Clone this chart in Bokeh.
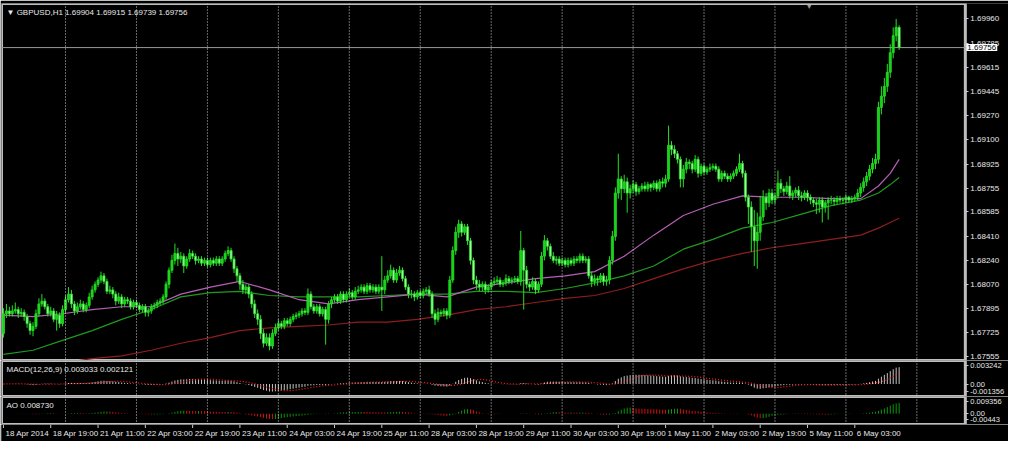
import numpy as np
import pandas as pd
from bokeh.plotting import figure
from bokeh.layouts import column
from bokeh.models import Range1d, FixedTicker, Label, Span
from bokeh.embed import file_html
from bokeh.resources import INLINE
from bokeh.core.properties import value

symbol_title = "\u25bc GBPUSD,H1 1.69904 1.69915 1.69739 1.69756"
macd_title = "MACD(12,26,9) 0.003033 0.002121"
ao_title = "AO 0.008730"
last_price = 1.69756
last_price_label = "1.69756"
first_open = 1.6772

close = [
    1.6786, 1.6788, 1.6786, 1.6788, 1.6789, 1.6786, 1.6787, 1.6784, 1.6779, 1.6774,
    1.6777, 1.6786, 1.6793, 1.6795, 1.6791, 1.6786, 1.6788, 1.6782, 1.6785, 1.6779,
    1.6789, 1.6796, 1.6800, 1.6793, 1.6788, 1.6791, 1.6793, 1.6789, 1.6792, 1.6798,
    1.6803, 1.6807, 1.6810, 1.6813, 1.6809, 1.6802, 1.6803, 1.6800, 1.6795, 1.6798,
    1.6793, 1.6796, 1.6795, 1.6791, 1.6794, 1.6792, 1.6789, 1.6791, 1.6787, 1.6788,
    1.6791, 1.6792, 1.6794, 1.6795, 1.6798, 1.6807, 1.6817, 1.6824, 1.6829, 1.6825,
    1.6827, 1.6820, 1.6825, 1.6829, 1.6827, 1.6824, 1.6825, 1.6822, 1.6824, 1.6821,
    1.6824, 1.6822, 1.6825, 1.6822, 1.6825, 1.6829, 1.6831, 1.6825, 1.6818, 1.6813,
    1.6807, 1.6803, 1.6805, 1.6800, 1.6793, 1.6786, 1.6782, 1.6772, 1.6765, 1.6769,
    1.6763, 1.6772, 1.6776, 1.6779, 1.6777, 1.6781, 1.6779, 1.6782, 1.6784, 1.6785,
    1.6786, 1.6788, 1.6787, 1.6800, 1.6791, 1.6788, 1.6791, 1.6786, 1.6789, 1.6782,
    1.6793, 1.6796, 1.6798, 1.6795, 1.6800, 1.6796, 1.6800, 1.6801, 1.6798, 1.6802,
    1.6803, 1.6805, 1.6802, 1.6806, 1.6803, 1.6805, 1.6802, 1.6805, 1.6803, 1.6810,
    1.6813, 1.6817, 1.6810, 1.6815, 1.6817, 1.6811, 1.6805, 1.6800, 1.6800, 1.6798,
    1.6801, 1.6799, 1.6802, 1.6803, 1.6800, 1.6786, 1.6782, 1.6787, 1.6786, 1.6788,
    1.6785, 1.6810, 1.6831, 1.6844, 1.6850, 1.6844, 1.6848, 1.6838, 1.6824, 1.6810,
    1.6807, 1.6805, 1.6807, 1.6803, 1.6805, 1.6808, 1.6809, 1.6810, 1.6807, 1.6808,
    1.6811, 1.6809, 1.6810, 1.6811, 1.6809, 1.6831, 1.6817, 1.6807, 1.6805, 1.6809,
    1.6803, 1.6807, 1.6827, 1.6838, 1.6834, 1.6827, 1.6824, 1.6825, 1.6822, 1.6824,
    1.6821, 1.6824, 1.6822, 1.6825, 1.6824, 1.6827, 1.6824, 1.6825, 1.6813, 1.6809,
    1.6811, 1.6810, 1.6813, 1.6809, 1.6810, 1.6824, 1.6841, 1.6872, 1.6882, 1.6875,
    1.6880, 1.6872, 1.6875, 1.6878, 1.6873, 1.6875, 1.6877, 1.6875, 1.6878, 1.6876,
    1.6879, 1.6875, 1.6880, 1.6879, 1.6882, 1.6906, 1.6903, 1.6900, 1.6896, 1.6882,
    1.6889, 1.6894, 1.6893, 1.6889, 1.6896, 1.6886, 1.6891, 1.6887, 1.6889, 1.6890,
    1.6891, 1.6889, 1.6882, 1.6886, 1.6884, 1.6882, 1.6884, 1.6886, 1.6889, 1.6893,
    1.6886, 1.6869, 1.6862, 1.6848, 1.6838, 1.6844, 1.6855, 1.6869, 1.6865, 1.6872,
    1.6867, 1.6870, 1.6879, 1.6875, 1.6873, 1.6877, 1.6870, 1.6872, 1.6874, 1.6870,
    1.6869, 1.6872, 1.6869, 1.6867, 1.6865, 1.6864, 1.6867, 1.6862, 1.6865, 1.6867,
    1.6867, 1.6866, 1.6868, 1.6867, 1.6867, 1.6869, 1.6867, 1.6868, 1.6869, 1.6872,
    1.6876, 1.6880, 1.6884, 1.6889, 1.6893, 1.6896, 1.6933, 1.6941, 1.6948, 1.6958,
    1.6972, 1.6984, 1.6990, 1.69756,
]

high = [
    1.6790, 1.6793, 1.6791, 1.6792, 1.6794, 1.6791, 1.6790, 1.6789, 1.6786, 1.6781,
    1.6780, 1.6789, 1.6797, 1.6800, 1.6797, 1.6793, 1.6791, 1.6790, 1.6788, 1.6787,
    1.6792, 1.6799, 1.6805, 1.6803, 1.6795, 1.6794, 1.6796, 1.6795, 1.6794, 1.6801,
    1.6806, 1.6809, 1.6812, 1.6816, 1.6815, 1.6811, 1.6806, 1.6805, 1.6802, 1.6801,
    1.6800, 1.6798, 1.6798, 1.6797, 1.6796, 1.6796, 1.6794, 1.6793, 1.6793, 1.6790,
    1.6793, 1.6794, 1.6796, 1.6797, 1.6800, 1.6809, 1.6819, 1.6828, 1.6836, 1.6833,
    1.6830, 1.6829, 1.6827, 1.6832, 1.6831, 1.6829, 1.6827, 1.6827, 1.6826, 1.6826,
    1.6826, 1.6826, 1.6827, 1.6827, 1.6827, 1.6831, 1.6834, 1.6833, 1.6827, 1.6820,
    1.6815, 1.6810, 1.6807, 1.6807, 1.6802, 1.6796, 1.6789, 1.6785, 1.6775, 1.6772,
    1.6772, 1.6775, 1.6779, 1.6782, 1.6781, 1.6783, 1.6783, 1.6784, 1.6786, 1.6787,
    1.6788, 1.6790, 1.6790, 1.6804, 1.6802, 1.6793, 1.6793, 1.6793, 1.6791, 1.6791,
    1.6795, 1.6798, 1.6800, 1.6800, 1.6802, 1.6802, 1.6802, 1.6804, 1.6803, 1.6805,
    1.6806, 1.6807, 1.6807, 1.6808, 1.6808, 1.6807, 1.6807, 1.6807, 1.6827, 1.6813,
    1.6817, 1.6821, 1.6819, 1.6818, 1.6820, 1.6819, 1.6813, 1.6807, 1.6803, 1.6802,
    1.6803, 1.6803, 1.6804, 1.6805, 1.6806, 1.6802, 1.6789, 1.6790, 1.6789, 1.6790,
    1.6790, 1.6813, 1.6834, 1.6848, 1.6853, 1.6852, 1.6850, 1.6850, 1.6840, 1.6826,
    1.6813, 1.6810, 1.6809, 1.6809, 1.6807, 1.6810, 1.6812, 1.6813, 1.6812, 1.6810,
    1.6814, 1.6813, 1.6812, 1.6813, 1.6813, 1.6845, 1.6833, 1.6820, 1.6809, 1.6812,
    1.6811, 1.6809, 1.6830, 1.6842, 1.6840, 1.6836, 1.6830, 1.6827, 1.6827, 1.6826,
    1.6826, 1.6826, 1.6826, 1.6827, 1.6827, 1.6829, 1.6829, 1.6827, 1.6827, 1.6816,
    1.6814, 1.6813, 1.6815, 1.6815, 1.6813, 1.6827, 1.6845, 1.6876, 1.6900, 1.6884,
    1.6885, 1.6883, 1.6878, 1.6881, 1.6880, 1.6877, 1.6879, 1.6880, 1.6880, 1.6879,
    1.6881, 1.6881, 1.6882, 1.6883, 1.6885, 1.6920, 1.6909, 1.6906, 1.6902, 1.6898,
    1.6892, 1.6897, 1.6896, 1.6895, 1.6899, 1.6898, 1.6893, 1.6893, 1.6891, 1.6893,
    1.6893, 1.6893, 1.6891, 1.6888, 1.6888, 1.6886, 1.6886, 1.6888, 1.6891, 1.6900,
    1.6895, 1.6888, 1.6871, 1.6866, 1.6860, 1.6858, 1.6870, 1.6874, 1.6872, 1.6875,
    1.6875, 1.6872, 1.6888, 1.6882, 1.6877, 1.6880, 1.6884, 1.6874, 1.6876, 1.6877,
    1.6873, 1.6874, 1.6874, 1.6871, 1.6869, 1.6868, 1.6869, 1.6869, 1.6867, 1.6869,
    1.6870, 1.6869, 1.6870, 1.6870, 1.6869, 1.6871, 1.6870, 1.6870, 1.6871, 1.6875,
    1.6879, 1.6883, 1.6887, 1.6892, 1.6897, 1.6900, 1.6937, 1.6948, 1.6954, 1.6964,
    1.6978, 1.6990, 1.6996, 1.69915,
]

low = [
    1.6769, 1.6783, 1.6784, 1.6784, 1.6786, 1.6783, 1.6784, 1.6781, 1.6776, 1.6771,
    1.6770, 1.6775, 1.6784, 1.6791, 1.6789, 1.6784, 1.6784, 1.6780, 1.6774, 1.6776,
    1.6777, 1.6787, 1.6794, 1.6790, 1.6785, 1.6786, 1.6789, 1.6787, 1.6787, 1.6790,
    1.6796, 1.6801, 1.6805, 1.6808, 1.6807, 1.6800, 1.6800, 1.6797, 1.6792, 1.6793,
    1.6790, 1.6791, 1.6793, 1.6789, 1.6789, 1.6790, 1.6787, 1.6787, 1.6784, 1.6784,
    1.6786, 1.6789, 1.6790, 1.6792, 1.6793, 1.6796, 1.6804, 1.6815, 1.6821, 1.6820,
    1.6822, 1.6815, 1.6818, 1.6823, 1.6825, 1.6821, 1.6822, 1.6820, 1.6820, 1.6819,
    1.6819, 1.6820, 1.6820, 1.6820, 1.6820, 1.6823, 1.6827, 1.6823, 1.6815, 1.6809,
    1.6803, 1.6800, 1.6800, 1.6797, 1.6790, 1.6783, 1.6778, 1.6768, 1.6762, 1.6763,
    1.6760, 1.6761, 1.6770, 1.6774, 1.6775, 1.6775, 1.6777, 1.6777, 1.6780, 1.6782,
    1.6783, 1.6784, 1.6785, 1.6785, 1.6789, 1.6786, 1.6786, 1.6784, 1.6784, 1.6764,
    1.6779, 1.6790, 1.6794, 1.6793, 1.6793, 1.6794, 1.6794, 1.6798, 1.6796, 1.6796,
    1.6800, 1.6801, 1.6800, 1.6800, 1.6801, 1.6801, 1.6800, 1.6800, 1.6788, 1.6800,
    1.6808, 1.6811, 1.6808, 1.6808, 1.6813, 1.6809, 1.6803, 1.6797, 1.6797, 1.6795,
    1.6796, 1.6797, 1.6797, 1.6800, 1.6798, 1.6783, 1.6778, 1.6780, 1.6784, 1.6784,
    1.6782, 1.6783, 1.6808, 1.6828, 1.6840, 1.6841, 1.6842, 1.6835, 1.6821, 1.6807,
    1.6803, 1.6802, 1.6802, 1.6800, 1.6801, 1.6803, 1.6806, 1.6807, 1.6805, 1.6805,
    1.6806, 1.6807, 1.6807, 1.6808, 1.6807, 1.6806, 1.6789, 1.6804, 1.6802, 1.6803,
    1.6800, 1.6801, 1.6805, 1.6824, 1.6831, 1.6825, 1.6822, 1.6821, 1.6820, 1.6820,
    1.6819, 1.6819, 1.6820, 1.6820, 1.6822, 1.6822, 1.6822, 1.6822, 1.6811, 1.6805,
    1.6806, 1.6806, 1.6808, 1.6806, 1.6806, 1.6807, 1.6821, 1.6838, 1.6868, 1.6867,
    1.6872, 1.6858, 1.6868, 1.6872, 1.6870, 1.6871, 1.6873, 1.6873, 1.6873, 1.6873,
    1.6874, 1.6873, 1.6873, 1.6876, 1.6876, 1.6880, 1.6899, 1.6897, 1.6893, 1.6876,
    1.6876, 1.6886, 1.6889, 1.6886, 1.6887, 1.6883, 1.6884, 1.6885, 1.6885, 1.6887,
    1.6888, 1.6887, 1.6880, 1.6880, 1.6882, 1.6880, 1.6880, 1.6882, 1.6884, 1.6887,
    1.6883, 1.6866, 1.6850, 1.6830, 1.6820, 1.6818, 1.6838, 1.6852, 1.6860, 1.6862,
    1.6864, 1.6864, 1.6868, 1.6872, 1.6870, 1.6871, 1.6868, 1.6867, 1.6869, 1.6867,
    1.6866, 1.6867, 1.6866, 1.6864, 1.6862, 1.6857, 1.6858, 1.6851, 1.6858, 1.6853,
    1.6864, 1.6863, 1.6864, 1.6865, 1.6864, 1.6865, 1.6865, 1.6865, 1.6866, 1.6867,
    1.6869, 1.6873, 1.6877, 1.6881, 1.6886, 1.6889, 1.6893, 1.6928, 1.6936, 1.6944,
    1.6954, 1.6968, 1.6980, 1.69739,
]

# moving averages at these bar numbers
ma_bars = [0, 10, 20, 30, 40, 50, 60, 70, 80, 90, 100, 110, 120, 130, 140, 150,
           160, 170, 180, 190, 200, 210, 220, 230, 240, 250, 260, 270, 280, 290,
           296, 300, 303]
ma_purple = [1.6785, 1.6784, 1.6786, 1.6789, 1.6791, 1.6791, 1.6800, 1.6805, 1.6809,
             1.6803, 1.6796, 1.6793, 1.6796, 1.6798, 1.6800, 1.6798, 1.6805, 1.6808,
             1.6811, 1.6813, 1.6816, 1.6827, 1.6842, 1.6856, 1.6864, 1.6870, 1.6869,
             1.6869, 1.6868, 1.6868, 1.6877, 1.6886, 1.6896]
ma_green = [1.6757, 1.6760, 1.6767, 1.6774, 1.6782, 1.6789, 1.6798, 1.6801, 1.6802,
            1.6799, 1.6798, 1.6798, 1.6798, 1.6799, 1.6800, 1.6800, 1.6802, 1.6802,
            1.6801, 1.6804, 1.6808, 1.6813, 1.6820, 1.6832, 1.6839, 1.6847, 1.6851,
            1.6857, 1.6863, 1.6867, 1.6872, 1.6878, 1.6883]
ma_red = [1.6742, 1.6748, 1.6751, 1.6754, 1.6756, 1.6760, 1.6765, 1.6769, 1.6774,
          1.6776, 1.6777, 1.6778, 1.6780, 1.6780, 1.6782, 1.6785, 1.6789, 1.6791,
          1.6794, 1.6797, 1.6799, 1.6804, 1.6811, 1.6818, 1.6824, 1.6829, 1.6833,
          1.6836, 1.6839, 1.6842, 1.6847, 1.6851, 1.6854]

price_ticks = [1.67555, 1.67725, 1.67895, 1.68070, 1.68240, 1.68410, 1.68585, 1.68755,
               1.68925, 1.69100, 1.69270, 1.69445, 1.69615, 1.69785, 1.69960]
price_tick_labels = ["1.67555", "1.67725", "1.67895", "1.68070", "1.68240", "1.68410",
                     "1.68585", "1.68755", "1.68925", "1.69100", "1.69270", "1.69445",
                     "1.69615", "1.69785", "1.69960"]

time_tick_bars = [0, 16, 32, 48, 64, 80, 96, 112, 128, 144, 160, 176, 192, 208, 224,
                  240, 256, 272, 288]
time_labels = ["18 Apr 2014", "18 Apr 19:00", "21 Apr 11:00", "22 Apr 03:00",
               "22 Apr 19:00", "23 Apr 11:00", "24 Apr 03:00", "24 Apr 19:00",
               "25 Apr 11:00", "28 Apr 03:00", "28 Apr 19:00", "29 Apr 11:00",
               "30 Apr 03:00", "30 Apr 19:00", "1 May 11:00", "2 May 03:00",
               "2 May 19:00", "5 May 11:00", "6 May 03:00"]
day_grid_bars = [21, 45, 69, 93, 117, 141, 165, 189, 213, 237, 261, 285, 309]

macd_ticks = [0.003242, 0.0, -0.001356]
macd_tick_labels = ["0.003242", "0.00", "-0.001356"]
ao_ticks = [0.009356, 0.0, -0.00443]
ao_tick_labels = ["0.009356", "0.00", "-0.00443"]

FONT = "Liberation Sans"
TXT = "#e8e8e8"
FRAME = "#bdbdbd"
W = 1008

n = len(close)
bars = np.arange(n)
c = np.array(close)
o = np.array([first_open] + close[:-1])
h = np.array(high)
l = np.array(low)

X0, AXIS_X, X1 = -0.66, 325.4, 340.0
xr = Range1d(X0, X1)


def make_fig(height, y0, y1, top, bottom, ticks, overrides, label_size):
    f = figure(width=W, height=height, x_range=xr, y_range=Range1d(y0, y1),
               output_backend="svg", toolbar_location=None,
               x_axis_location=None, y_axis_location="right",
               min_border_left=1, min_border_right=0,
               min_border_top=top, min_border_bottom=bottom,
               background_fill_color="black", border_fill_color="black",
               outline_line_color=None)
    f.grid.visible = False
    for b in day_grid_bars:
        f.add_layout(Span(location=b, dimension="height", line_color="#d4d4d4",
                          line_dash="1 2", line_width=1))
    ax = f.yaxis[0]
    ax.fixed_location = AXIS_X
    ax.ticker = FixedTicker(ticks=ticks)
    ax.major_label_overrides = overrides
    ax.axis_line_color = None
    ax.major_tick_out = 3
    ax.major_tick_in = 0
    ax.minor_tick_line_color = None
    ax.major_tick_line_color = "#c8c8c8"
    ax.major_label_text_font = FONT
    ax.major_label_text_font_size = label_size
    ax.major_label_text_color = TXT
    ax.major_label_standoff = 2
    # panel border (chart area only, the price scale stays outside)
    f.quad(left=[X0], right=[AXIS_X], bottom=[y0], top=[y1], fill_color=None,
           line_color=FRAME, line_width=3)
    return f


def boxed(f, y, text):
    lbl = Label(x=AXIS_X, y=y, x_offset=1, text=text, text_font=FONT,
                text_font_size="8px", text_color="black", text_baseline="middle",
                text_align="left", background_fill_color="white")
    if "padding" in lbl.properties():
        lbl.padding = 1
    f.add_layout(lbl)


# ---------------- main price panel ----------------
ymin, ymax = 1.67527, 1.70070
p = make_fig(360, ymin, ymax, 3, 0, price_ticks,
             {t: s for t, s in zip(price_ticks, price_tick_labels)}, "8px")

p.segment(x0=[X0], y0=[last_price], x1=[AXIS_X], y1=[last_price],
          line_color="#9a9a9a", line_width=1)

p.line(ma_bars, ma_red, line_color="#8e1d1d", line_width=1.2)
p.line(ma_bars, ma_green, line_color="#1f9a1f", line_width=1.2)
p.line(ma_bars, ma_purple, line_color="#b65fb6", line_width=1.2)

bull = c >= o
body_fill = np.where(bull, "#19d219", "#a8f5a8")
p.segment(x0=bars, y0=h, x1=bars, y1=l, line_color="#22e022", line_width=1)
p.vbar(x=bars, width=0.7, top=np.maximum(o, c), bottom=np.minimum(o, c),
       fill_color=body_fill, line_color="#22e022", line_width=0.8)

p.add_layout(Label(x=X0, y=ymax, x_offset=5, y_offset=-4, text=symbol_title,
                   text_font=FONT, text_font_size="8px", text_color=TXT,
                   text_baseline="top"))
p.add_layout(Label(x=272.6, y=ymax, y_offset=1, text="\u25bc", text_font=FONT,
                   text_font_size="7px", text_color="#9a9a9a", text_baseline="top",
                   text_align="center"))
boxed(p, last_price, last_price_label)

# ---------------- MACD panel ----------------
cs = pd.Series(close)
macd = cs.ewm(span=12, adjust=False).mean() - cs.ewm(span=26, adjust=False).mean()
signal = macd.rolling(9, min_periods=1).mean()

mmin, mmax = -0.00215, 0.00405
pm = make_fig(36, mmin, mmax, 0, 0, macd_ticks,
              {t: s for t, s in zip(macd_ticks, macd_tick_labels)}, "7.5px")
pm.segment(x0=bars, y0=0, x1=bars, y1=macd.values, line_color="#c4c4c4", line_width=1)
pm.line(bars, signal.values, line_color="#ff1a1a", line_width=1.3, line_dash="1 2")
pm.add_layout(Label(x=X0, y=mmax, x_offset=5, y_offset=-4, text=macd_title,
                    text_font=FONT, text_font_size="8px", text_color=TXT,
                    text_baseline="top"))

# ---------------- AO panel ----------------
hs = pd.Series(high)
ls = pd.Series(low)
med = (hs + ls) / 2.0
ao = (med.rolling(5, min_periods=1).mean() - med.rolling(34, min_periods=1).mean()).values
ao_up = np.concatenate([[True], ao[1:] >= ao[:-1]])
ao_col = np.where(ao_up, "#0a9a0a", "#d81010")

amin, amax = -0.00826, 0.01318
pa = make_fig(28, amin, amax, 0, 0, ao_ticks,
              {t: s for t, s in zip(ao_ticks, ao_tick_labels)}, "7.5px")
pa.segment(x0=bars, y0=0, x1=bars, y1=ao, line_color=ao_col, line_width=1)
pa.add_layout(Label(x=X0, y=amax, x_offset=5, y_offset=-4, text=ao_title,
                    text_font=FONT, text_font_size="8px", text_color=TXT,
                    text_baseline="top"))

# ---------------- time axis strip ----------------
pt = figure(width=W, height=17, x_range=xr, y_range=Range1d(0, 17),
            output_backend="svg", toolbar_location=None,
            x_axis_location=None, y_axis_location=None,
            min_border_left=1, min_border_right=0, min_border_top=0, min_border_bottom=0,
            background_fill_color="black", border_fill_color="black",
            outline_line_color=None)
pt.grid.visible = False
pt.segment(x0=time_tick_bars, y0=17, x1=time_tick_bars, y1=13.5,
           line_color="#c8c8c8", line_width=1)
pt.text(x=time_tick_bars, y=8.5, text=time_labels, text_font=value(FONT),
        text_font_size=value("8px"), text_color=TXT, text_align="left",
        text_baseline="middle", x_offset=2)

layout = column(p, pm, pa, pt, spacing=0)
open("out.html", "w").write(file_html(layout, INLINE))
